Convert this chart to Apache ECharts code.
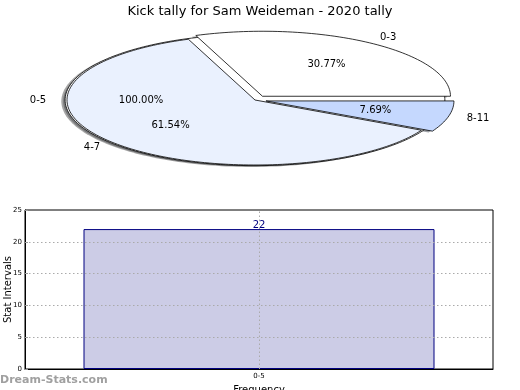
<!DOCTYPE html>
<html>
<head>
<meta charset="utf-8">
<script src="https://cdn.jsdelivr.net/npm/echarts@6/dist/echarts.min.js"></script>
<style>
html,body{margin:0;padding:0;background:#fff;}
#chart{width:520px;height:390px;}
</style>
</head>
<body>
<div id="chart"></div>
<script>
// ---- data ----
const titleText = 'Kick tally for Sam Weideman - 2020 tally';
const outerLabels = ['0-5'];
const outerValues = [22];
const innerLabels = ['0-3', '4-7', '8-11'];
const innerValues = [4, 8, 1];
const barCategories = ['0-5'];
const barValues = [22];
const yAxisName = 'Stat Intervals';
const xAxisName = 'Frequency';
const watermark = 'Dream-Stats.com';

// ---- layout / style ----
const FONT = 'DejaVu Sans';
const CX = 255, CY = 100, A = 188, B = 65;
const innerColors = ['#ffffff', '#eaf1fe', '#c5d8fe'];
const outerColors = ['#ffffff'];
const innerExplode = [0.07, 0, 0.06];
const outerExplode = [0];
const SHADOW_DX = -3.8, SHADOW_DY = 1.3;

function shade(hex) {
  const r = parseInt(hex.slice(1,3),16), g = parseInt(hex.slice(3,5),16), b = parseInt(hex.slice(5,7),16);
  return 'rgba(' + Math.round(r*0.3) + ',' + Math.round(g*0.3) + ',' + Math.round(b*0.3) + ',0.5)';
}

function pieRender(values, labels, colors, explode, scale, zBase) {
  const total = values.reduce((s, v) => s + v, 0);
  return function (params, api) {
    const i = params.dataIndex;
    const v = api.value(0);
    let before = 0;
    for (let j = 0; j < i; j++) before += values[j];
    const frac = v / total;
    const t1 = before / total * Math.PI * 2;
    const t2 = t1 + frac * Math.PI * 2;
    const mid = (t1 + t2) / 2;
    const a = A * scale, b = B * scale;
    const e = explode[i];
    const cx = CX + e * a * Math.cos(mid);
    const cy = CY - e * b * Math.sin(mid);
    const pts = [];
    const full = frac >= 0.9999;
    if (!full) pts.push([cx, cy]);
    const n = Math.max(4, Math.ceil(frac * 240));
    for (let k = 0; k <= n; k++) {
      const t = t1 + (t2 - t1) * k / n;
      pts.push([cx + a * Math.cos(t), cy - b * Math.sin(t)]);
    }
    const spts = pts.map(p => [p[0] + SHADOW_DX, p[1] + SHADOW_DY]);
    const lx = cx + 1.1 * a * Math.cos(mid), ly = cy - 1.1 * b * Math.sin(mid);
    const px = cx + 0.6 * a * Math.cos(mid), py = cy - 0.6 * b * Math.sin(mid);
    const pct = (frac * 100).toFixed(2) + '%';
    return {
      type: 'group',
      children: [
        { type: 'polygon', z2: 0, shape: { points: spts }, style: { fill: shade(colors[i]), stroke: null } },
        { type: 'polygon', z2: zBase + i, shape: { points: pts }, style: { fill: colors[i], stroke: '#000', lineWidth: 0.8 } },
        { type: 'text', z2: 50, style: { text: labels[i], x: lx, y: ly, fill: '#000', font: '10px ' + FONT,
            align: Math.cos(mid) > 0 ? 'left' : 'right', verticalAlign: 'middle' } },
        { type: 'text', z2: 50, style: { text: pct, x: px, y: py, fill: '#000', font: '10px ' + FONT,
            align: 'center', verticalAlign: 'middle' } }
      ]
    };
  };
}

const chart = echarts.init(document.getElementById('chart'), null, { renderer: 'canvas' });
chart.setOption({
  animation: false,
  backgroundColor: '#fff',
  title: {
    text: titleText, left: 'center', top: 0,
    textStyle: { fontFamily: FONT, fontSize: 13, fontWeight: 'normal', color: '#000' }
  },
  graphic: [{
    type: 'text', left: 0, top: 375,
    style: { text: watermark, fill: '#a0a0a0', font: 'bold 11px ' + FONT }
  }],
  grid: {
    left: 25, right: 27, top: 210, bottom: 21, show: true,
    containLabel: false, outerBoundsMode: 'none',
    borderColor: '#000', borderWidth: 1, backgroundColor: 'transparent'
  },
  xAxis: {
    type: 'category', data: barCategories, z: 3,
    axisLine: { show: true, lineStyle: { color: '#000', width: 1 } },
    axisTick: { show: false },
    axisLabel: { fontSize: 7, fontFamily: FONT, color: '#000', margin: 4 },
    name: xAxisName, nameLocation: 'middle', nameGap: 16, nameMoveOverlap: false,
    nameTextStyle: { fontSize: 10, fontFamily: FONT, color: '#000' },
    splitLine: { show: false }
  },
  yAxis: {
    type: 'value', min: 0, max: 25, interval: 5, z: 3,
    axisLine: { show: true, lineStyle: { color: '#000', width: 1 } },
    axisTick: { show: true, inside: true, length: 3, lineStyle: { color: '#999' } },
    axisLabel: { fontSize: 7, fontFamily: FONT, color: '#000', margin: 3 },
    splitLine: { show: true, showMinLine: false, showMaxLine: false, lineStyle: { color: '#aaa', type: [1.5, 2.5], width: 1 } },
    name: yAxisName, nameLocation: 'middle', nameGap: 12, nameRotate: 90, nameMoveOverlap: false,
    nameTextStyle: { fontSize: 10, fontFamily: FONT, color: '#000' }
  },
  series: [
    {
      type: 'custom', coordinateSystem: 'none', silent: true,
      data: outerValues.map(v => [v]),
      renderItem: pieRender(outerValues, outerLabels, outerColors, outerExplode, 1.01, 1)
    },
    {
      type: 'custom', coordinateSystem: 'none', silent: true,
      data: innerValues.map(v => [v]),
      renderItem: pieRender(innerValues, innerLabels, innerColors, innerExplode, 1.0, 10)
    },
    {
      type: 'bar', data: barValues, barWidth: '75%',
      itemStyle: { color: '#cccce6', borderColor: '#000080', borderWidth: 1 },
      label: { show: true, position: 'top', distance: -1, color: '#000080', fontSize: 10, fontFamily: FONT },
      markLine: {
        silent: true, symbol: 'none', label: { show: false },
        lineStyle: { color: '#aaa', type: [1.5, 2.5], width: 1 },
        data: [{ xAxis: barCategories[0] }]
      }
    }
  ]
});
</script>
</body>
</html>
